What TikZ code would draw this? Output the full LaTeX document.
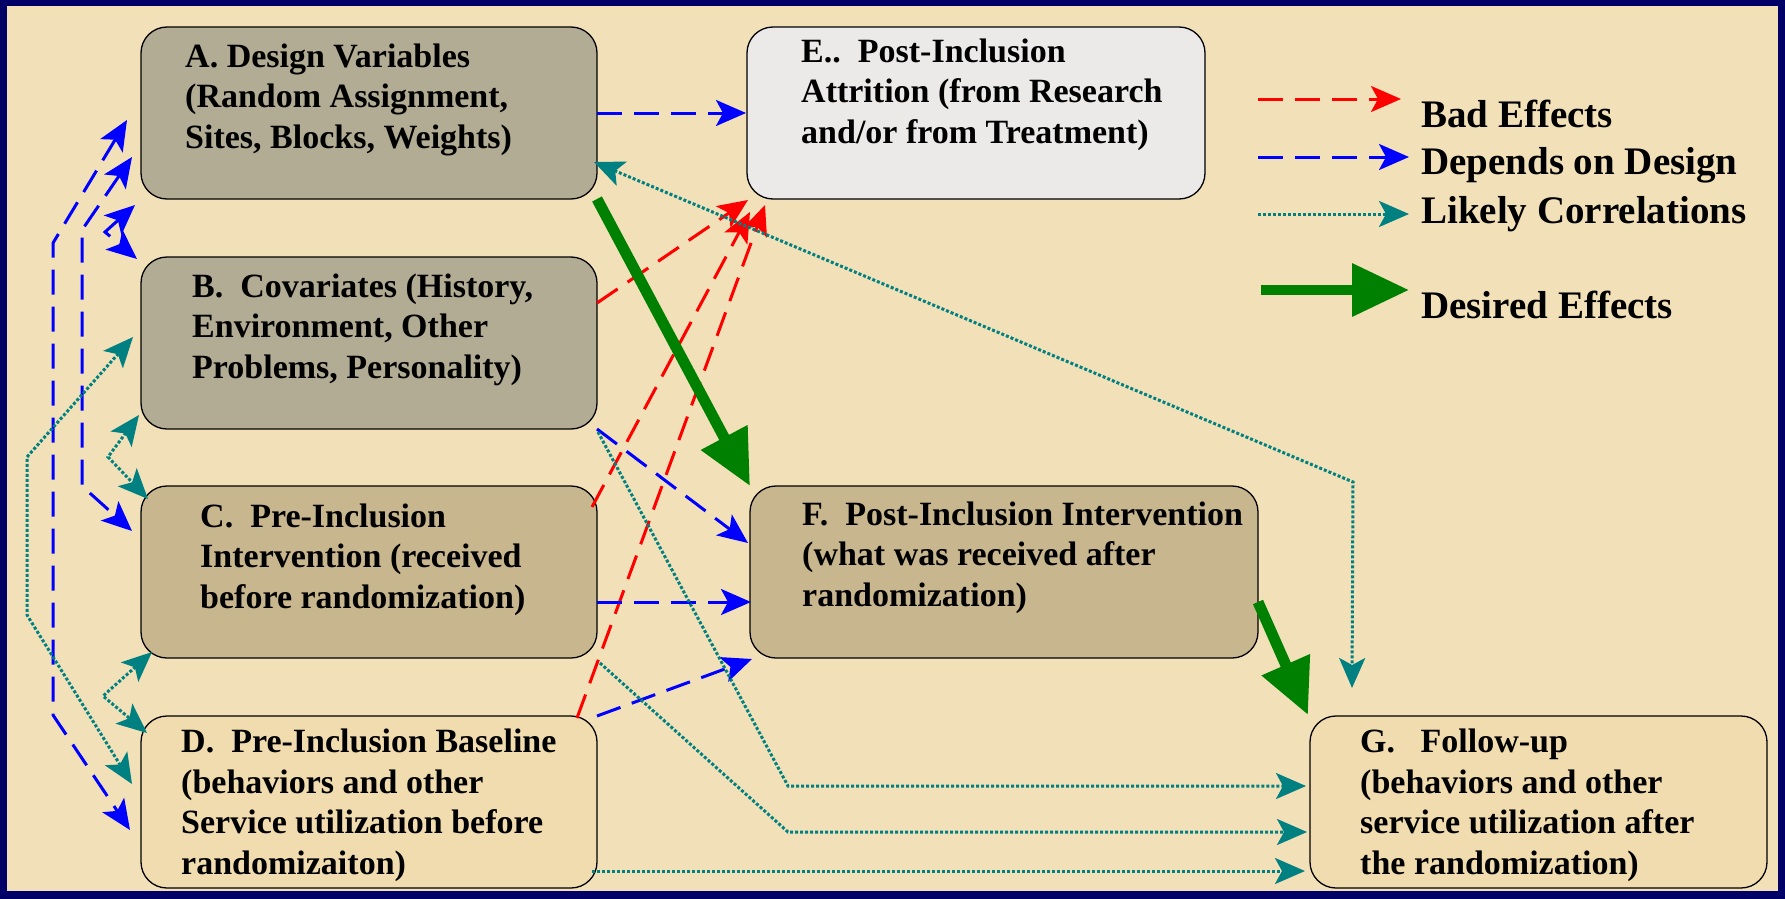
\documentclass[tikz,border=0pt]{standalone}
\usepackage{fontspec}
\setmainfont{Liberation Serif}
\usetikzlibrary{arrows.meta,calc}
\definecolor{navy}{RGB}{0,0,102}
\definecolor{parch}{RGB}{242,225,184}
\definecolor{boxgray}{RGB}{178,172,148}
\definecolor{boxtan}{RGB}{200,182,142}
\definecolor{boxsand}{RGB}{240,220,174}
\definecolor{boxwhite}{RGB}{236,233,233}
\definecolor{tealc}{RGB}{0,128,128}
\definecolor{greenc}{RGB}{0,128,0}
\definecolor{bluec}{RGB}{0,0,255}
\definecolor{redc}{RGB}{255,0,0}
\begin{document}
\begin{tikzpicture}[x=1pt,y=-1pt,
  box/.style={draw=black, line width=1.3pt, rounded corners=26pt, minimum height=172pt, inner sep=0pt, outer sep=0pt},
  lbl/.style={anchor=base west, align=left, inner sep=0pt, font=\bfseries\fontsize{34}{40.5}\selectfont},
  leg/.style={anchor=base west, inner sep=0pt, font=\bfseries\fontsize{39}{47}\selectfont},
  smallhead/.tip={Stealth[length=30pt,width=26pt,inset=7pt]},
  bigtip/.tip={Triangle[length=55pt,width=50pt]},
  bad/.style={draw=redc, line width=3pt, dash pattern=on 25pt off 12pt, -smallhead},
  dep/.style={draw=bluec, line width=3pt, dash pattern=on 25pt off 12pt},
  cor/.style={draw=tealc, line width=3pt, dash pattern=on 3pt off 2pt},
  des/.style={draw=greenc, line width=11pt, -bigtip},
]
\useasboundingbox (0,0) rectangle (1785,899);
\fill[navy] (0,0) rectangle (1785,899);
\fill[parch] (7,6) rectangle (1778,891);

% boxes
\node[box, fill=boxgray,  minimum width=456pt] (A) at (369,113) {};
\node[box, fill=boxgray,  minimum width=456pt] (B) at (369,343) {};
\node[box, fill=boxtan,   minimum width=456pt] (C) at (369,572) {};
\node[box, fill=boxsand,  minimum width=456pt] (D) at (369,802) {};
\node[box, fill=boxwhite, minimum width=458pt] (E) at (976,113) {};
\node[box, fill=boxtan,   minimum width=508pt] (F) at (1004,572) {};
\node[box, fill=boxsand,  minimum width=457pt] (G) at (1538.5,802) {};

% box texts (anchor = baseline of the last line)
\node[lbl] (At) at ($(A.north west)+(44,121)$) {A. Design Variables\\(Random Assignment,\\Sites, Blocks, Weights)};
\node[lbl] (Bt) at ($(B.north west)+(51,121)$) {B.\ \ Covariates (History,\\Environment, Other\\Problems, Personality)};
\node[lbl] (Ct) at ($(C.north west)+(59,122)$) {C.\ \ Pre-Inclusion\\Intervention (received\\before randomization)};
\node[lbl] (Dt) at ($(D.north west)+(40,158)$) {D.\ \ Pre-Inclusion Baseline\\(behaviors and other\\Service utilization before\\randomizaiton)};
\node[lbl] (Et) at ($(E.north west)+(54,116)$) {E..\ \ Post-Inclusion\\Attrition (from Research\\and/or from Treatment)};
\node[lbl] (Ft) at ($(F.north west)+(52,120)$) {F.\ \ Post-Inclusion Intervention\\(what was received after\\randomization)};
\node[lbl] (Gt) at ($(G.north west)+(50,158)$) {G.\ \ \ Follow-up\\(behaviors and other\\service utilization after\\the randomization)};

% waypoints
\coordinate (cAG) at (1353,482);
\coordinate (cBG) at (788,786);
\coordinate (cCG) at (788,832);
\coordinate (pA1) at (53,243);
\coordinate (pA2) at (53,715);
\coordinate (pC1) at (82,230);
\coordinate (pC2) at (82,486);
\coordinate (pB1) at (105,232);
\coordinate (t1) at (27,457);
\coordinate (t2) at (27,615);
\coordinate (t3) at (108,457);
\coordinate (t4) at (103,696);

% bad effects (red)
\draw[bad] ($(B.east)+(0,-40)$) -- ($(E.south west)+(1,1)$);
\draw[bad] ($(C.north east)+(-5,21)$) -- ($(E.south west)+(3,13)$);
\draw[bad] ($(D.north east)+(-20,2)$) -- ($(E.south west)+(18,6)$);

% depends on design (blue)
\draw[dep,-smallhead] (A.east) -- ($(E.west)+(-1,0)$);
\draw[dep,-smallhead] (B.south east) -- ($(F.west)+(-2,-29)$);
\draw[dep,-smallhead] ($(C.east)+(0,30)$) -- ($(F.west)+(1,30)$);
\draw[dep,-smallhead] (D.north east) -- ($(F.south west)+(2,1)$);
\draw[dep,smallhead-smallhead] ($(A.west)+(-14,7)$) -- (pA1) -- (pA2) -- ($(D.west)+(-11,28)$);
\draw[dep,smallhead-smallhead] ($(A.west)+(-9,44)$) -- (pC1) -- (pC2) -- ($(C.west)+(-9,-41)$);
\draw[dep,smallhead-smallhead] ($(A.south west)+(-6,6)$) -- (pB1) -- ($(B.north west)+(-4,2)$);

% likely correlations (teal)
\draw[cor,smallhead-smallhead] ($(A.south east)+(-3,-37)$) -- (cAG) -- ($(G.north west)+(42,-28)$);
\draw[cor,-smallhead] ($(B.south east)+(1,3)$) -- (cBG) -- ($(G.west)+(-4,-16)$);
\draw[cor,-smallhead] ($(C.south east)+(3,5)$) -- (cCG) -- ($(G.west)+(-3,30)$);
\draw[cor,-smallhead] ($(D.east)+(-5,69)$) -- ($(G.west)+(-5,69)$);
\draw[cor,smallhead-smallhead] ($(B.west)+(-8,-6)$) -- (t1) -- (t2) -- ($(D.west)+(-9,-18)$);
\draw[cor,smallhead-smallhead] ($(B.south west)+(-2,-14)$) -- (t3) -- ($(C.north west)+(7,13)$);
\draw[cor,smallhead-smallhead] ($(C.south west)+(11,-6)$) -- (t4) -- ($(D.north west)+(6,17)$);

% desired effects (green)
\draw[des] (A.south east) -- (F.north west);
\draw[des] ($(F.east)+(0,30)$) -- ($(G.north west)+(-2,-1)$);

% legend
\coordinate (l1a) at (1258,99);  \coordinate (l1b) at (1401,99);
\coordinate (l2a) at (1258,157); \coordinate (l2b) at (1409,157);
\coordinate (l3a) at (1258,214); \coordinate (l3b) at (1409,214);
\coordinate (l4a) at (1261,290); \coordinate (l4b) at (1409,290);
\draw[bad] (l1a) -- (l1b);
\draw[dep,-smallhead] (l2a) -- (l2b);
\draw[cor,-smallhead] (l3a) -- (l3b);
\draw[draw=greenc, line width=10pt, -{Triangle[length=57pt,width=51pt]}] (l4a) -- (l4b);
\node[leg] (L1) at (1421,127) {Bad Effects};
\node[leg] (L2) at (1421,174) {Depends on Design};
\node[leg] (L3) at (1421,223) {Likely Correlations};
\node[leg] (L4) at (1421,318) {Desired Effects};
\end{tikzpicture}
\end{document}
